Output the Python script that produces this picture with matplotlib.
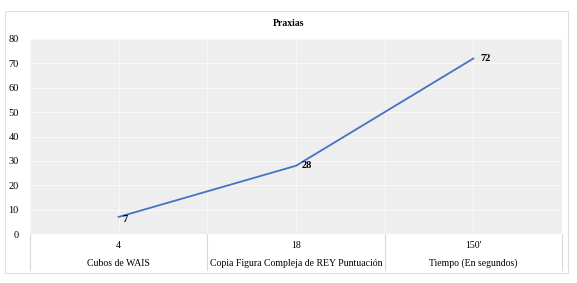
import matplotlib
matplotlib.use("Agg")
import matplotlib.pyplot as plt
from matplotlib.patches import Rectangle
from matplotlib.lines import Line2D

title = "Praxias"
categories = ["Cubos de WAIS", "Copia Figura Compleja de REY Puntuación", "Tiempo (En segundos)"]
value_labels = ["4", "18", "150'"]
values = [7, 28, 72]
yticks = [0, 10, 20, 30, 40, 50, 60, 70, 80]

W, H = 577, 283
fig = plt.figure(figsize=(W / 100, H / 100), dpi=100)
plt.rcParams['font.family'] = ['Liberation Serif', 'DejaVu Serif']

# outer frame
fig.patches.append(Rectangle((5 / W, 1 - 273 / H), 563 / W, 262 / H, transform=fig.transFigure,
                             fill=False, edgecolor='#e0e0e0', linewidth=0.8))

left, right, top, bottom = 30, 562, 39, 234
ax = fig.add_axes([left / W, 1 - bottom / H, (right - left) / W, (bottom - top) / H])
ax.set_facecolor('#eeeeee')
n = len(categories)
x = list(range(n))
ax.set_xlim(-0.5, n - 0.5)
ax.set_ylim(0, 80)
ax.set_yticks(yticks)
ax.set_yticklabels([str(t) for t in yticks], fontsize=7.5)
ax.tick_params(axis='y', length=0, pad=8)
ax.set_xticks([])
for s in ax.spines.values():
    s.set_visible(False)
for t in yticks:
    ax.axhline(t, color='#f8f8f8', linewidth=0.8, zorder=1)
for xv in [i - 0.5 for i in range(n + 1)] + x:
    ax.axvline(xv, color='#f8f8f8', linewidth=0.8, zorder=1)

ax.plot(x, values, color='#4472C4', linewidth=1.3, zorder=3)
offsets = [(3, -2), (4, 0), (5, 0)]
for xi, v, (dx, dy) in zip(x, values, offsets):
    ax.annotate(str(v), (xi, v), xytext=(dx, dy), textcoords='offset points',
                fontsize=7.5, fontweight='bold', ha='left', va='center', zorder=4)

ax.text(0.5, (H - 23) / H, title, transform=fig.transFigure, ha='center', va='center',
        fontsize=7, fontweight='bold')

# category table
tb = 270
for i in range(n + 1):
    xp = left + (right - left) * i / n
    fig.add_artist(Line2D([xp / W, xp / W], [1 - tb / H, 1 - bottom / H], transform=fig.transFigure,
                          color='#d9d9d9', linewidth=0.8))
for i in range(n):
    xc = (left + (right - left) * (i + 0.5) / n) / W
    fig.text(xc, 1 - 245 / H, value_labels[i], ha='center', va='center', fontsize=7)
    fig.text(xc, 1 - 263 / H, categories[i], ha='center', va='center', fontsize=7)

fig.savefig("out.png", dpi=100)
